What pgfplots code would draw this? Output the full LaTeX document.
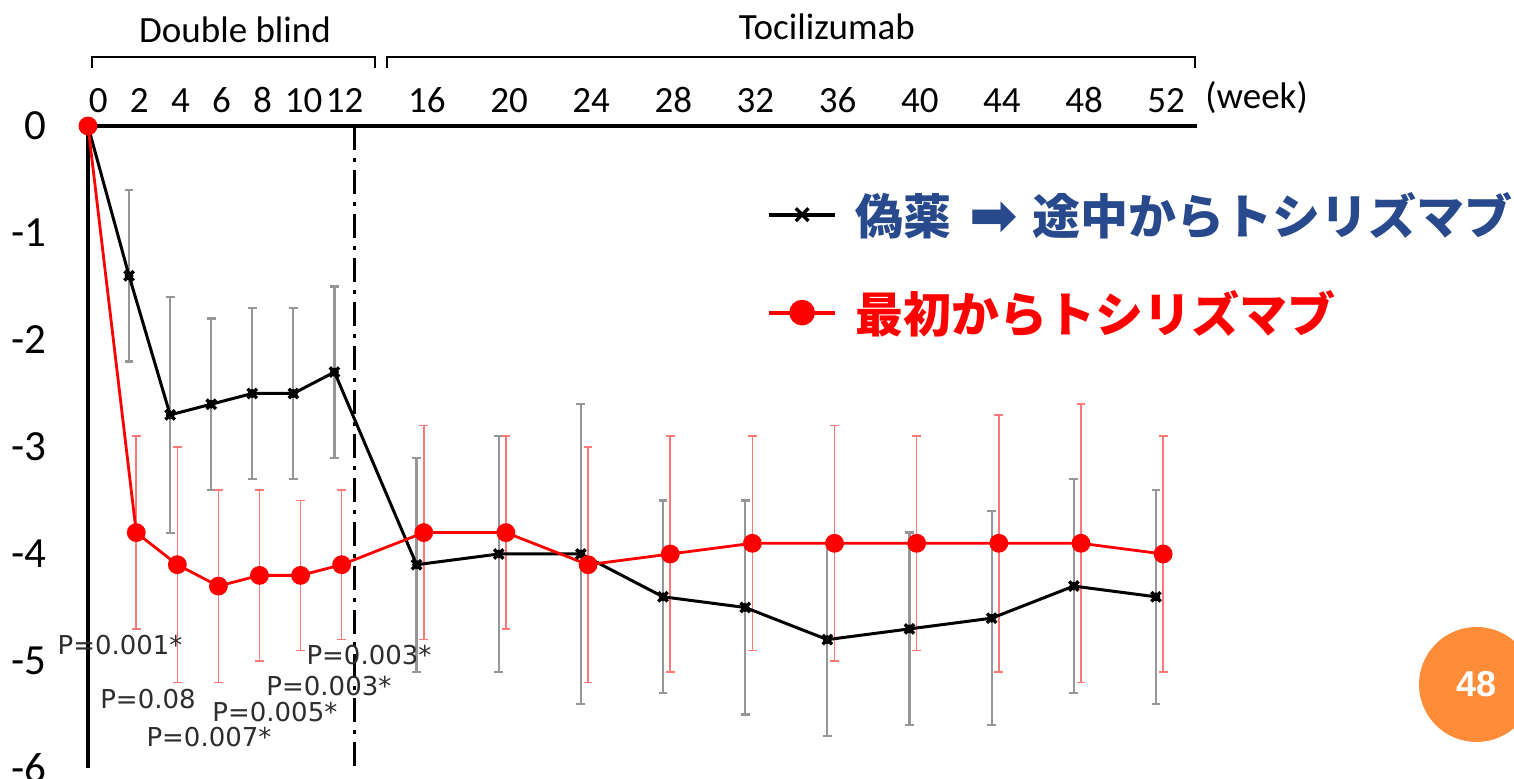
\documentclass[border=0pt]{standalone}
\usepackage{pgfplots}
\pgfplotsset{compat=1.18}
\usepackage{pgfplotstable}
\usepackage{fontspec}
\setmainfont{Carlito}
\newfontfamily\cjk{Noto Sans CJK JP}
\newfontfamily\dejavu{DejaVu Sans}
\newfontfamily\libsans{Liberation Sans}
\definecolor{legblue}{RGB}{40,74,140}
\definecolor{errgray}{RGB}{150,150,150}
\definecolor{errred}{RGB}{255,120,120}
\definecolor{pgray}{RGB}{45,45,45}
\definecolor{pageorange}{RGB}{255,140,56}

\pgfplotstableread{
w y e
0 0 0
2 -1.4 0.8
4 -2.7 1.1
6 -2.6 0.8
8 -2.5 0.8
10 -2.5 0.8
12 -2.3 0.8
16 -4.1 1.0
20 -4.0 1.1
24 -4.0 1.4
28 -4.4 0.9
32 -4.5 1.0
36 -4.8 0.9
40 -4.7 0.9
44 -4.6 1.0
48 -4.3 1.0
52 -4.4 1.0
}\blackdata

\pgfplotstableread{
w y e
0 0 0
2.35 -3.8 0.9
4.35 -4.1 1.1
6.35 -4.3 0.9
8.35 -4.2 0.8
10.35 -4.2 0.7
12.35 -4.1 0.7
16.35 -3.8 1.0
20.35 -3.8 0.9
24.35 -4.1 1.1
28.35 -4.0 1.1
32.35 -3.9 1.0
36.35 -3.9 1.1
40.35 -3.9 1.0
44.35 -3.9 1.2
48.35 -3.9 1.3
52.35 -4.0 1.1
}\reddata

\begin{document}
\begin{tikzpicture}
\useasboundingbox (0,0) rectangle (757bp,389.5bp);
\begin{axis}[
  at={(44bp,5.5bp)}, anchor=south west,
  scale only axis, width=554.5bp, height=321bp,
  xmin=0, xmax=54, ymin=-6, ymax=0,
  axis x line=top, axis y line=left,
  axis line style={-, line width=1.8bp},
  xtick={0.5,2.5,4.5,6.5,8.5,10.5,12.5,16.5,20.5,24.5,28.5,32.5,36.5,40.5,44.5,48.5,52.5},
  xticklabels={0,2,4,6,8,10,12,16,20,24,28,32,36,40,44,48,52},
  ytick={0,-1,-2,-3,-4,-5,-6},
  yticklabels={0,-1,-2,-3,-4,-5,-6},
  major tick length=0pt,
  xticklabel style={yshift=3bp, font=\fontsize{18.5bp}{22bp}\selectfont},
  yticklabel style={xshift=-17.5bp, font=\fontsize{21.5bp}{24bp}\selectfont},
  clip=false,
  legend image code/.code={\draw[mark repeat=2,mark phase=2,#1,line width=2bp, every mark/.append style={scale=1.35}] plot coordinates {(0bp,0bp) (16.5bp,0bp) (33bp,0bp)};},
  legend style={at={(0.612,0.904)}, anchor=north west, draw=none, fill=none,
    inner sep=0pt, row sep=22.5bp, column sep=7bp,
    font=\cjk\bfseries\fontsize{24bp}{28bp}\selectfont},
  legend cell align=left,
]
\addplot[forget plot, only marks, mark=none, skip coords between index={0}{1},
  error bars/.cd, y dir=both, y explicit,
  error bar style={errgray, line width=1.1bp},
  error mark options={errgray, rotate=90, mark size=2.2bp, line width=1.1bp}]
  table[x=w, y=y, y error=e] {\blackdata};
\addplot[forget plot, only marks, mark=none, skip coords between index={0}{1},
  error bars/.cd, y dir=both, y explicit,
  error bar style={errred, line width=0.8bp},
  error mark options={errred, rotate=90, mark size=2.2bp, line width=0.8bp}]
  table[x=w, y=y, y error=e] {\reddata};
\addplot[black, line width=1.5bp, mark=x, mark size=3.3bp, mark options={line width=1.7bp}]
  table[x=w, y=y] {\blackdata};
\addlegendentry{\textcolor{legblue}{偽薬\hspace{0.38em}{\dejavu\fontsize{29bp}{30bp}\selectfont\raisebox{-0.5bp}{➡}}\hspace{0.3em}途中からトシリズマブ}}
\addplot[red, line width=1.4bp, mark=*, mark size=4bp]
  table[x=w, y=y] {\reddata};
\addlegendentry{\textcolor{red}{最初からトシリズマブ}}

\draw[black, line width=1.5bp, dash pattern=on 12bp off 4bp on 2bp off 4bp] (axis cs:13,0) -- (axis cs:13,-6);
\draw[line width=1.4bp] (axis cs:0.19,0.54) |- (axis cs:13.97,0.645) -- (axis cs:13.97,0.54);
\draw[line width=1.4bp] (axis cs:14.56,0.54) |- (axis cs:53.9,0.645) -- (axis cs:53.9,0.54);
\node[font=\fontsize{18.5bp}{22bp}\selectfont] at (axis cs:7.16,0.90) {Double blind};
\node[font=\fontsize{18.5bp}{22bp}\selectfont] at (axis cs:35.98,0.925) {Tocilizumab};
\node[font=\fontsize{18.5bp}{22bp}\selectfont, anchor=base] at (axis cs:56.9,0.16) {(week)};

\begin{scope}[every node/.style={font=\dejavu\fontsize{13bp}{15bp}\selectfont, text=pgray, inner sep=0pt}]
\node at (axis cs:1.56,-4.85) {P=0.001*};
\node at (axis cs:2.92,-5.36) {P=0.08};
\node at (axis cs:5.89,-5.71) {P=0.007*};
\node at (axis cs:9.10,-5.48) {P=0.005*};
\node at (axis cs:11.73,-5.23) {P=0.003*};
\node at (axis cs:13.68,-4.94) {P=0.003*};
\end{scope}
\end{axis}
\fill[pageorange] (738.25bp,47.25bp) circle (28.75bp);
\node[text=white, font=\libsans\bfseries\fontsize{18bp}{20bp}\selectfont] at (738.25bp,47.25bp) {48};
\end{tikzpicture}
\end{document}
